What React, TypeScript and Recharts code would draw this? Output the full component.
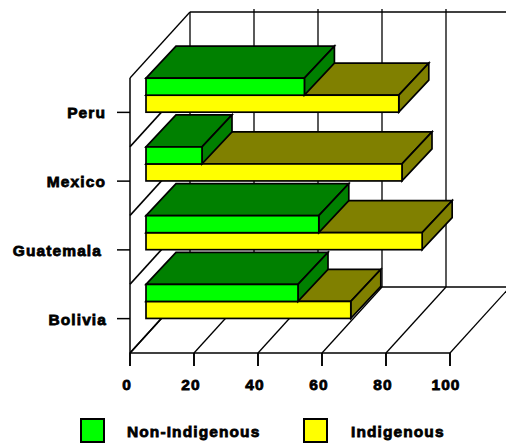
import React from "react";
import { BarChart, Bar, XAxis, YAxis, CartesianGrid, Legend, ReferenceLine } from "recharts";

const categories = ["Peru", "Mexico", "Guatemala", "Bolivia"];
const nonIndigenous = [49.5, 17.5, 54, 47.5];
const indigenous = [79, 80, 86.3, 64];
const xTicks = [0, 20, 40, 60, 80, 100];
const legendItems = [
  { label: "Non-Indigenous", color: "#00ff00", box: 80, text: 127 },
  { label: "Indigenous", color: "#ffff00", box: 303, text: 351 },
];

const rows = categories.map((name, i) => ({
  name,
  nonIndigenous: nonIndigenous[i],
  indigenous: indigenous[i],
}));

// Oblique projection of the box: full depth of the walls and depth of one bar.
const WALL_DX = 60;
const WALL_DY = 66;
const BAR_DX = 30;
const BAR_DY = 32;
const INK = "#000";
const labelFont: React.CSSProperties = {
  fontFamily: "'Liberation Sans', Arial, sans-serif",
  fontWeight: 700,
  fontSize: 15.5,
  letterSpacing: 1.1,
  fill: INK,
  stroke: INK,
  strokeWidth: 0.8,
};

// A bar as a 3D slab: side and top faces in the darker tone behind the front face.
function slab(front: string, dark: string, rowShift: number) {
  return (props: any) => {
    const { x, y, width, height } = props;
    const fx = x + 16;
    const fy = y - 17 + rowShift * height;
    const r = fx + width;
    const b = fy + height;
    const common = { stroke: INK, strokeWidth: 1.7, strokeLinejoin: "miter" as const };
    return (
      <g>
        <polygon
          points={`${fx},${fy} ${fx + BAR_DX},${fy - BAR_DY} ${r + BAR_DX},${fy - BAR_DY} ${r},${fy}`}
          fill={dark}
          {...common}
        />
        <polygon
          points={`${r},${fy} ${r + BAR_DX},${fy - BAR_DY} ${r + BAR_DX},${b - BAR_DY} ${r},${b}`}
          fill={dark}
          {...common}
        />
        <rect x={fx} y={fy} width={width} height={height} fill={front} {...common} />
      </g>
    );
  };
}

// Back wall line and floor line for each value tick.
function wallAndFloor(props: any) {
  const { x1, y1, y2, index } = props;
  const top = y1 - WALL_DY;
  const bottom = y2 - WALL_DY;
  const back = x1 + WALL_DX;
  return (
    <g key={`v-${index}`} stroke={INK} strokeWidth={1.3} fill="none">
      {index === 0 && <line x1={back} y1={top} x2={back + 320} y2={top} />}
      {index === 0 && <line x1={back} y1={bottom} x2={back + 320} y2={bottom} />}
      <line x1={back} y1={index === 0 ? top : top - 3} x2={back} y2={bottom} />
      <line x1={x1} y1={y2} x2={back} y2={bottom} />
    </g>
  );
}

// Side wall diagonals at the edges of each category band.
function sideWall(props: any) {
  const { x1, y1, index } = props;
  return (
    <line
      key={`h-${index}`}
      x1={x1}
      y1={y1}
      x2={x1 + WALL_DX}
      y2={y1 - WALL_DY}
      stroke={INK}
      strokeWidth={index === 0 ? 1.3 : 1.8}
    />
  );
}

// Grid rows sit on the band edges of the category axis, not on its tick centres.
function bandEdges({ offset }: any) {
  const band = offset.height / categories.length;
  return [0, 1, 2, 3, 4].map((i) => offset.top + i * band);
}

// Outer tick mark: starts at the foot of the reference line and hangs below the axis.
function hangingTick(props: any) {
  const { x1, y1, y2 } = props;
  const foot = Math.max(y1, y2);
  return <path d={`M${x1},${foot}V${foot + 13}`} stroke={INK} strokeWidth={1.6} fill="none" />;
}

function XTick(props: any) {
  const { x, y, payload } = props;
  const nudge = payload.value === 100 ? -1 : 0;
  return (
    <text x={x - 3 + nudge} y={y + 22} textAnchor="middle" style={labelFont}>
      {payload.value}
    </text>
  );
}

function YTick(props: any) {
  const { x, y, payload } = props;
  const nudge = payload.value === "Guatemala" ? -4 : payload.value === "Bolivia" ? 1 : 0;
  return (
    <text x={x - 9 + nudge} y={y + 6} textAnchor="end" style={labelFont}>
      {payload.value}
    </text>
  );
}

function LegendRow() {
  return (
    <div style={{ position: "relative", width: 506, height: 30 }}>
      {legendItems.map((item) => (
        <React.Fragment key={item.label}>
          <div
            style={{
              position: "absolute",
              left: item.box,
              top: 5,
              width: 21,
              height: 21,
              background: item.color,
              border: `2px solid ${INK}`,
            }}
          />
          <div
            style={{
              position: "absolute",
              left: item.text,
              top: 9,
              fontFamily: labelFont.fontFamily,
              fontWeight: 700,
              fontSize: 15.5,
              letterSpacing: 1.1,
              lineHeight: "20px",
              color: INK,
              WebkitTextStroke: "0.8px #000",
              whiteSpace: "nowrap",
            }}
          >
            {item.label}
          </div>
        </React.Fragment>
      ))}
    </div>
  );
}

export default function App() {
  return (
    <div style={{ position: "absolute", left: 0, top: 0, width: 506, height: 443, overflow: "hidden", background: "#fff" }}>
      <BarChart
        width={506}
        height={443}
        data={rows}
        layout="vertical"
        barCategoryGap="25%"
        barGap={0}
        margin={{ top: 78, right: 56, bottom: 0, left: 0 }}
      >
        <CartesianGrid vertical={wallAndFloor} horizontal={sideWall} horizontalCoordinatesGenerator={bandEdges} />
        <XAxis
          type="number"
          domain={[0, 100]}
          ticks={xTicks}
          height={60}
          tickSize={13}
          tick={<XTick />}
          interval={0}
          stroke={INK}
          strokeWidth={1.5}
        />
        <YAxis
          type="category"
          dataKey="name"
          width={130}
          tickSize={13}
          tick={<YTick />}
          interval={0}
          stroke={INK}
          strokeWidth={1.5}
        />
        {/* Yellow slabs paint first so the green slabs above them stay on top. */}
        <Bar dataKey="indigenous" isAnimationActive={false} shape={slab("#ffff00", "#808000", 1)} />
        <Bar dataKey="nonIndigenous" isAnimationActive={false} shape={slab("#00ff00", "#008000", -1)} />
        {xTicks.map((value) => (
          <ReferenceLine key={value} x={value} ifOverflow="visible" shape={hangingTick} />
        ))}
        <Legend
          content={<LegendRow />}
          layout="horizontal"
          verticalAlign="bottom"
          wrapperStyle={{ position: "absolute", left: 0, top: 413, width: 506, height: 30 }}
        />
      </BarChart>
    </div>
  );
}
